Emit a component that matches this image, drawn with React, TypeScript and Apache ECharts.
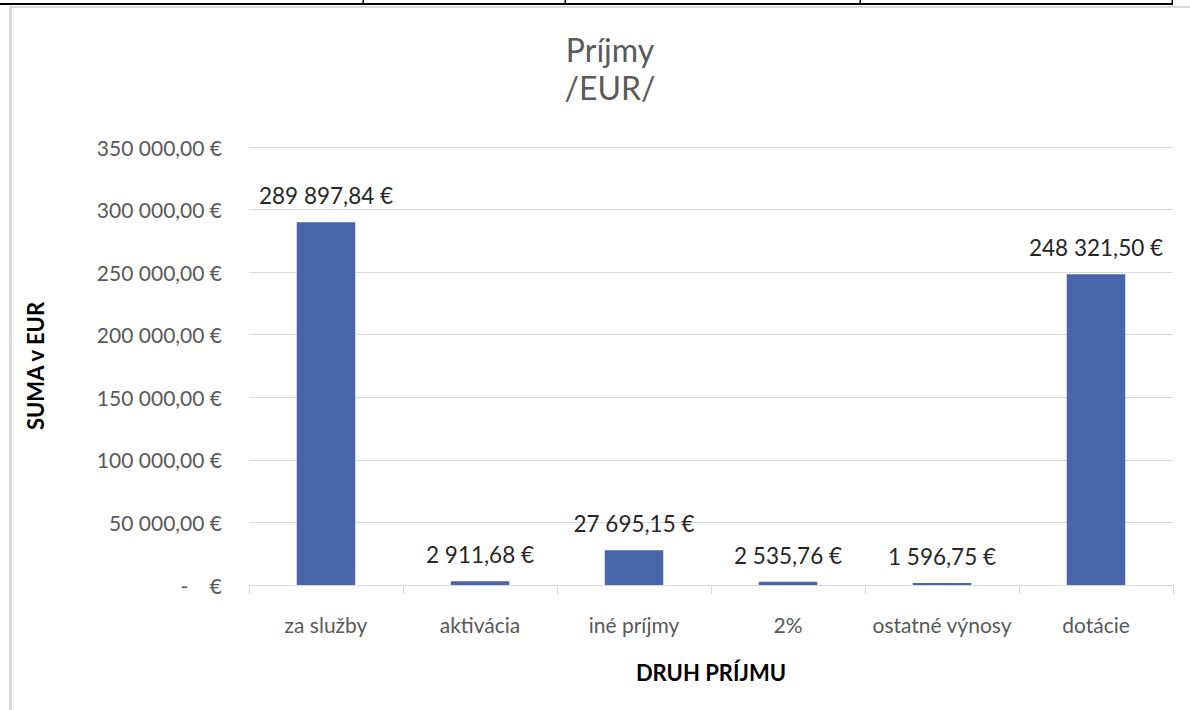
import React, { useEffect, useRef } from "react";
import * as echarts from "echarts";

const categories = ["za služby", "aktivácia", "iné príjmy", "2%", "ostatné výnosy", "dotácie"];
const values = [289897.84, 2911.68, 27695.15, 2535.76, 1596.75, 248321.5];
const titleLines = ["Príjmy", "/EUR/"];
const yAxisName = "SUMA v EUR";
const xAxisName = "DRUH PRÍJMU";
const tableColumnX = [363, 565, 860, 1172];

const FONT = "Lato, 'Noto Sans', sans-serif";

function fmt(v: number): string {
  const [i, d] = v.toFixed(2).split(".");
  return i.replace(/\B(?=(\d{3})+(?!\d))/g, " ") + "," + d + " €";
}

export default function App() {
  const ref = useRef<HTMLDivElement>(null);
  useEffect(() => {
    if (!ref.current) return;
    const chart = echarts.init(ref.current, undefined, { renderer: "svg" });
    const graphics: any[] = [
      { type: "rect", shape: { x: 9, y: 6, width: 3, height: 710 }, style: { fill: "#d9d9d9" }, silent: true },
      { type: "rect", shape: { x: 9, y: 6, width: 1190, height: 2 }, style: { fill: "#d9d9d9" }, silent: true },
      { type: "rect", shape: { x: 0, y: 3, width: tableColumnX[tableColumnX.length - 1] + 1, height: 2 }, style: { fill: "#000" }, silent: true },
      ...tableColumnX.map((x) => ({
        type: "rect",
        shape: { x: x - 0.5, y: 0, width: 1.5, height: 5 },
        style: { fill: "#000" },
        silent: true,
      })),
    ];
    chart.setOption({
      animation: false,
      backgroundColor: "#fff",
      title: {
        text: titleLines.join("\n"),
        left: 605,
        top: 25,
        textAlign: "center",
        textStyle: { fontFamily: FONT, fontSize: 32, fontWeight: "normal", color: "#595959", lineHeight: 38 },
      },
      grid: { left: 249, right: 17, top: 147, bottom: 125, containLabel: false },
      xAxis: {
        type: "category",
        data: categories,
        name: xAxisName,
        nameLocation: "middle",
        nameGap: 76,
        nameTextStyle: { fontFamily: FONT, fontSize: 22, fontWeight: "bold", color: "#000" },
        axisLine: { lineStyle: { color: "#d9d9d9", width: 1 } },
        axisTick: { show: true, interval: 0, length: 9, lineStyle: { color: "#d9d9d9" } },
        axisLabel: { interval: 0, margin: 29, fontFamily: FONT, fontSize: 21, color: "#595959" },
      },
      yAxis: {
        type: "value",
        min: 0,
        max: 350000,
        interval: 50000,
        name: yAxisName,
        nameLocation: "middle",
        nameRotate: 90,
        nameGap: 203,
        nameTextStyle: { fontFamily: FONT, fontSize: 22, fontWeight: "bold", color: "#000" },
        axisLine: { show: false },
        axisTick: { show: false },
        splitLine: { lineStyle: { color: "#d9d9d9", width: 1 } },
        axisLabel: {
          margin: 27,
          fontFamily: FONT,
          fontSize: 21,
          color: "#595959",
          formatter: (v: number) => (v === 0 ? "-    €" : fmt(v)),
        },
      },
      series: [
        {
          type: "bar",
          data: values,
          barWidth: "38%",
          itemStyle: { color: "#4966ad" },
          label: {
            show: true,
            position: "top",
            distance: 15,
            fontFamily: FONT,
            fontSize: 22.5,
            color: "#262626",
            formatter: (p: any) => fmt(p.value),
          },
        },
      ],
      graphic: graphics,
    });
    return () => chart.dispose();
  }, []);
  return (
    <div
      ref={ref}
      style={{ position: "fixed", left: 0, top: 0, width: 1190, height: 710, background: "#fff" }}
    />
  );
}
